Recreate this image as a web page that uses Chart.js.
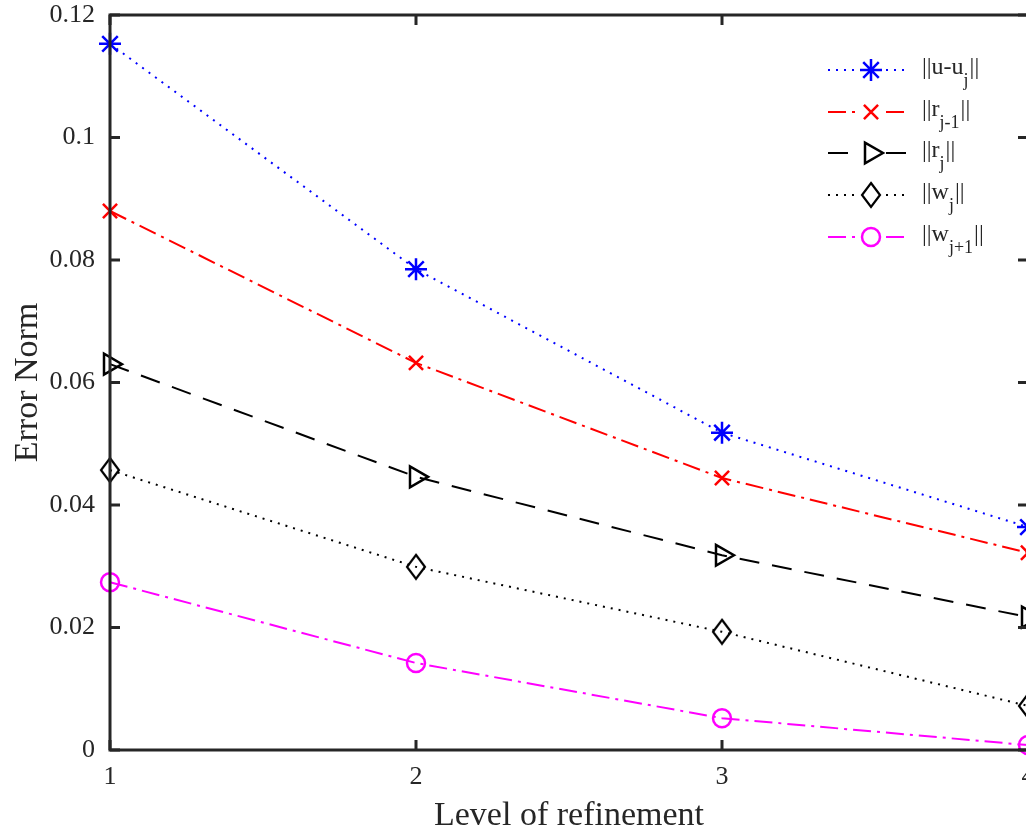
<!DOCTYPE html>
<html>
<head>
<meta charset="utf-8">
<script src="https://cdn.jsdelivr.net/npm/chart.js@4/dist/chart.umd.min.js"></script>
<style>
  html, body { margin: 0; padding: 0; background: #fff; overflow: hidden; }
  #wrap { position: absolute; left: 0; top: 0; width: 1060px; height: 836px; }
</style>
</head>
<body>
<div id="wrap"><canvas id="chart" width="1060" height="836"></canvas></div>
<script>
// Error norms per refinement level
const levels = [1, 2, 3, 4];
const uErr = [0.1153, 0.0785, 0.0518, 0.0364];     // ||u-u_j||
const rPrev = [0.0880, 0.0632, 0.0444, 0.0322];    // ||r_{j-1}||
const rCur = [0.0630, 0.0446, 0.0318, 0.0217];     // ||r_j||
const wCur = [0.0457, 0.0299, 0.0193, 0.0072];     // ||w_j||
const wNext = [0.0274, 0.0142, 0.0052, 0.0008];    // ||w_{j+1}||
const yTicks = [0, 0.02, 0.04, 0.06, 0.08, 0.1, 0.12];

const FONT = "'Liberation Serif', 'DejaVu Serif', serif";
const AXIS = '#262626';

function toPoints(vals) {
    return levels.map((x, i) => ({ x: x, y: vals[i] }));
}

// tall diamond marker (matlab style), drawn once into a small canvas
function diamondMarker(color) {
    const c = document.createElement('canvas');
    c.width = 22; c.height = 28;
    const g = c.getContext('2d');
    g.strokeStyle = color;
    g.lineWidth = 2.2;
    g.beginPath();
    g.moveTo(11, 2); g.lineTo(20, 14); g.lineTo(11, 26); g.lineTo(2, 14);
    g.closePath();
    g.stroke();
    return c;
}
const diamond = diamondMarker('#000000');

// label parts: [text, isSub]
const series = [
    { label: [['||u-u', false], ['j', true], ['||', false]], data: uErr, color: '#0000ff',
      dash: [2, 6], style: 'star', radius: 11, rot: 0 },
    { label: [['||r', false], ['j-1', true], ['||', false]], data: rPrev, color: '#ff0000',
      dash: [18, 6, 3, 6], style: 'crossRot', radius: 10, rot: 0 },
    { label: [['||r', false], ['j', true], ['||', false]], data: rCur, color: '#000000',
      dash: [20, 13], style: 'triangle', radius: 12, rot: 90 },
    { label: [['||w', false], ['j', true], ['||', false]], data: wCur, color: '#000000',
      dash: [2, 6], style: diamond, radius: 11, rot: 0 },
    { label: [['||w', false], ['j+1', true], ['||', false]], data: wNext, color: '#ff00ff',
      dash: [18, 6, 3, 6], style: 'circle', radius: 9, rot: 0 }
];

// Box frame with inward ticks
const framePlugin = {
    id: 'frame',
    afterDraw(chart) {
        const ctx = chart.ctx;
        const a = chart.chartArea;
        const xs = chart.scales.x, ys = chart.scales.y;
        const len = 10;
        ctx.save();
        ctx.strokeStyle = AXIS;
        ctx.lineWidth = 3;
        ctx.setLineDash([]);
        ctx.strokeRect(a.left, a.top, a.right - a.left, a.bottom - a.top);
        ctx.beginPath();
        levels.forEach(v => {
            const px = xs.getPixelForValue(v);
            ctx.moveTo(px, a.bottom); ctx.lineTo(px, a.bottom - len);
            ctx.moveTo(px, a.top); ctx.lineTo(px, a.top + len);
        });
        yTicks.forEach(v => {
            const py = ys.getPixelForValue(v);
            ctx.moveTo(a.left, py); ctx.lineTo(a.left + len, py);
            ctx.moveTo(a.right, py); ctx.lineTo(a.right - len, py);
        });
        ctx.stroke();
        ctx.restore();
    }
};

// Legend with subscripts
const legendPlugin = {
    id: 'subLegend',
    afterDraw(chart) {
        const ctx = chart.ctx;
        const x0 = 828, x1 = 907, mx = 871, tx = 922;
        const rowY = [70, 112, 153, 195, 237];
        ctx.save();
        series.forEach((s, i) => {
            const y = rowY[i];
            ctx.strokeStyle = s.color;
            ctx.lineWidth = 2;
            ctx.setLineDash(s.dash);
            ctx.beginPath();
            ctx.moveTo(x0, y); ctx.lineTo(mx - 15, y);
            ctx.moveTo(mx + 15, y); ctx.lineTo(x1, y);
            ctx.stroke();
            ctx.setLineDash([]);
            ctx.lineWidth = 2.5;
            ctx.fillStyle = 'rgba(0,0,0,0)';
            Chart.helpers.drawPoint(ctx, {
                pointStyle: s.style, rotation: s.rot, radius: s.radius, borderWidth: 2.5
            }, mx, y);

            let cx = tx;
            ctx.fillStyle = AXIS;
            ctx.textBaseline = 'middle';
            ctx.textAlign = 'left';
            s.label.forEach(([t, sub]) => {
                ctx.font = (sub ? '18px ' : '24px ') + FONT;
                ctx.fillText(t, cx, sub ? y + 11 : y - 2);
                cx += ctx.measureText(t).width + (sub ? 1 : 0);
            });
        });
        ctx.restore();
    }
};

const datasets = series.map(s => ({
    data: toPoints(s.data),
    borderColor: s.color,
    backgroundColor: 'rgba(0,0,0,0)',
    borderWidth: 2,
    borderDash: s.dash,
    pointStyle: s.style,
    pointRotation: s.rot,
    pointRadius: s.radius,
    pointBorderWidth: 2.5,
    pointBorderColor: s.color,
    pointBackgroundColor: 'rgba(0,0,0,0)',
    tension: 0,
    clip: false
}));

new Chart(document.getElementById('chart'), {
    type: 'line',
    data: { datasets: datasets },
    options: {
        responsive: false,
        animation: false,
        layout: { padding: { top: 15, right: 32, left: 0, bottom: 0 } },
        plugins: { legend: { display: false }, tooltip: { enabled: false } },
        scales: {
            x: {
                type: 'linear',
                min: 1, max: 4,
                afterFit: scale => {
                    scale.height = 86;
                    scale.paddingLeft = 0; scale.paddingRight = 0;
                },
                afterBuildTicks: scale => { scale.ticks = levels.map(v => ({ value: v })); },
                grid: { display: false, drawTicks: false },
                border: { display: false },
                ticks: { font: { family: FONT, size: 26 }, color: AXIS, padding: 12 },
                title: { display: true, text: 'Level of refinement', color: AXIS,
                         font: { family: FONT, size: 34 }, padding: { top: 0, bottom: 0 } }
            },
            y: {
                min: 0, max: 0.12,
                afterFit: scale => {
                    scale.width = 110;
                    scale.paddingTop = 0; scale.paddingBottom = 0;
                },
                afterBuildTicks: scale => { scale.ticks = yTicks.map(v => ({ value: v })); },
                grid: { display: false, drawTicks: false },
                border: { display: false },
                ticks: { font: { family: FONT, size: 26 }, color: AXIS, padding: 15,
                         callback: v => String(+v.toFixed(2)) },
                title: { display: true, text: 'Error Norm', color: AXIS,
                         font: { family: FONT, size: 34 }, padding: { top: 8, bottom: 0 } }
            }
        }
    },
    plugins: [framePlugin, legendPlugin]
});
</script>
</body>
</html>
